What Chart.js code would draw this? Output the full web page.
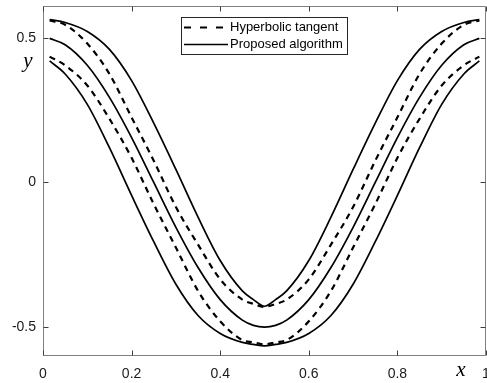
<!DOCTYPE html>
<html><head><meta charset="utf-8">
<script src="https://cdn.jsdelivr.net/npm/chart.js@4/dist/chart.umd.min.js"></script>
<style>html,body{margin:0;padding:0;background:#fff}canvas{display:block}</style>
</head><body>
<canvas id="c" width="487" height="383"></canvas>
<script>
const xValues = [0.015, 0.05, 0.1, 0.15, 0.2, 0.25, 0.3, 0.35, 0.4, 0.45, 0.475, 0.5, 0.525, 0.55, 0.6, 0.65, 0.7, 0.75, 0.8, 0.85, 0.9, 0.95, 0.985];
const centerSolid = [0.498, 0.476, 0.405, 0.294, 0.155, 0.0, -0.155, -0.294, -0.405, -0.476, -0.494, -0.5, -0.494, -0.476, -0.405, -0.294, -0.155, 0.0, 0.155, 0.294, 0.405, 0.476, 0.498];
const upperSolid = [0.563, 0.553, 0.522, 0.46, 0.352, 0.205, 0.045, -0.12, -0.27, -0.375, -0.405, -0.428, -0.405, -0.375, -0.27, -0.12, 0.045, 0.205, 0.352, 0.46, 0.522, 0.553, 0.563];
const lowerSolid = [0.42, 0.375, 0.27, 0.12, -0.045, -0.205, -0.352, -0.46, -0.522, -0.553, -0.56, -0.565, -0.56, -0.553, -0.522, -0.46, -0.352, -0.205, -0.045, 0.12, 0.27, 0.375, 0.42];
const upperDashed = [0.56, 0.545, 0.48, 0.375, 0.225, 0.075, -0.085, -0.215, -0.335, -0.405, -0.42, -0.43, -0.42, -0.405, -0.335, -0.215, -0.085, 0.075, 0.225, 0.375, 0.48, 0.545, 0.56];
const lowerDashed = [0.435, 0.405, 0.335, 0.22, 0.085, -0.075, -0.225, -0.375, -0.48, -0.545, -0.553, -0.56, -0.553, -0.545, -0.48, -0.375, -0.225, -0.075, 0.085, 0.22, 0.335, 0.405, 0.435];
const xTicks = [0, 0.2, 0.4, 0.6, 0.8, 1];
const xTickLabels = ['0', '0.2', '0.4', '0.6', '0.8', '1'];
const yTicks = [-0.5, 0, 0.5];
const yTickLabels = ['-0.5', '0', '0.5'];
const legendLabels = ['Hyperbolic tangent', 'Proposed algorithm'];
const xAxisLabel = 'x';
const yAxisLabel = 'y';

function pts(ys) { return xValues.map((x, i) => ({ x: x, y: ys[i] })); }
function solid(label, ys) {
  return { label, data: pts(ys), borderColor: '#000', borderWidth: 1.7, pointRadius: 0, fill: false, cubicInterpolationMode: 'monotone' };
}
function dashed(label, ys) {
  return { label, data: pts(ys), borderColor: '#000', borderWidth: 2.2, borderDash: [6, 5], pointRadius: 0, fill: false, cubicInterpolationMode: 'monotone' };
}

const axesPlugin = {
  id: 'matlabAxes',
  afterDraw(chart) {
    const { ctx, chartArea: a, scales: { x, y } } = chart;
    ctx.save();
    const L = Math.round(a.left) + 0.5, R = Math.round(a.right) - 0.5;
    const T = Math.round(a.top) + 0.5, B = Math.round(a.bottom) - 0.5;
    ctx.strokeStyle = '#808080';
    ctx.lineWidth = 1;
    ctx.beginPath();
    ctx.moveTo(L, T); ctx.lineTo(R, T); ctx.lineTo(R, B); ctx.lineTo(L, B); ctx.closePath();
    ctx.stroke();
    ctx.strokeStyle = '#404040';
    ctx.beginPath();
    xTicks.forEach(v => {
      const px = Math.round(x.getPixelForValue(v)) + 0.5;
      ctx.moveTo(px, B); ctx.lineTo(px, B - 5);
      ctx.moveTo(px, T); ctx.lineTo(px, T + 5);
    });
    yTicks.forEach(v => {
      const py = Math.round(y.getPixelForValue(v)) + 0.5;
      ctx.moveTo(L, py); ctx.lineTo(L + 5, py);
      ctx.moveTo(R, py); ctx.lineTo(R - 5, py);
    });
    ctx.stroke();
    ctx.fillStyle = '#1a1a1a';
    ctx.font = '14px "Liberation Sans", Arial, sans-serif';
    ctx.textAlign = 'center';
    ctx.textBaseline = 'middle';
    xTicks.forEach((v, i) => ctx.fillText(xTickLabels[i], x.getPixelForValue(v), a.bottom + 18));
    ctx.textAlign = 'right';
    yTicks.forEach((v, i) => ctx.fillText(yTickLabels[i], a.left - 7, y.getPixelForValue(v)));
    ctx.font = 'italic 21px "Liberation Serif", "DejaVu Serif", serif';
    ctx.textAlign = 'center';
    ctx.fillStyle = '#000';
    ctx.fillText(xAxisLabel, 461, 370);
    ctx.fillText(yAxisLabel, 28, 61);
    // legend
    const bx = 181.5, by = 17.5, bw = 166, bh = 37;
    ctx.fillStyle = '#fff';
    ctx.fillRect(bx, by, bw, bh);
    ctx.strokeStyle = '#262626';
    ctx.lineWidth = 1;
    ctx.strokeRect(bx, by, bw, bh);
    const rows = [27.5, 44.5];
    ctx.strokeStyle = '#000';
    ctx.lineWidth = 2.2;
    ctx.setLineDash([7, 9]);
    ctx.beginPath(); ctx.moveTo(184, rows[0]); ctx.lineTo(228, rows[0]); ctx.stroke();
    ctx.setLineDash([]);
    ctx.lineWidth = 1.7;
    ctx.beginPath(); ctx.moveTo(184, rows[1]); ctx.lineTo(228, rows[1]); ctx.stroke();
    ctx.fillStyle = '#000';
    ctx.font = '13px "Liberation Sans", Arial, sans-serif';
    ctx.textAlign = 'left';
    ctx.textBaseline = 'middle';
    ctx.fillText(legendLabels[0], 230, rows[0]);
    ctx.fillText(legendLabels[1], 230, rows[1]);
    ctx.restore();
  }
};

new Chart(document.getElementById('c'), {
  type: 'line',
  data: {
    datasets: [
      solid(legendLabels[1], upperSolid),
      dashed(legendLabels[0], upperDashed),
      solid(legendLabels[1], centerSolid),
      dashed(legendLabels[0], lowerDashed),
      solid(legendLabels[1], lowerSolid)
    ]
  },
  options: {
    responsive: false,
    devicePixelRatio: 1,
    animation: false,
    layout: { padding: { left: 43, right: 1, top: 6, bottom: 27 } },
    plugins: { legend: { display: false }, tooltip: { enabled: false } },
    scales: {
      x: {
        type: 'linear', min: 0, max: 1,
        afterBuildTicks: s => { s.ticks = xTicks.map(v => ({ value: v })); },
        ticks: { display: false }, grid: { display: false, drawTicks: false }, border: { display: false }
      },
      y: {
        type: 'linear', min: -0.6, max: 0.61,
        afterBuildTicks: s => { s.ticks = yTicks.map(v => ({ value: v })); },
        ticks: { display: false }, grid: { display: false, drawTicks: false }, border: { display: false }
      }
    }
  },
  plugins: [axesPlugin]
});
</script>
</body></html>
